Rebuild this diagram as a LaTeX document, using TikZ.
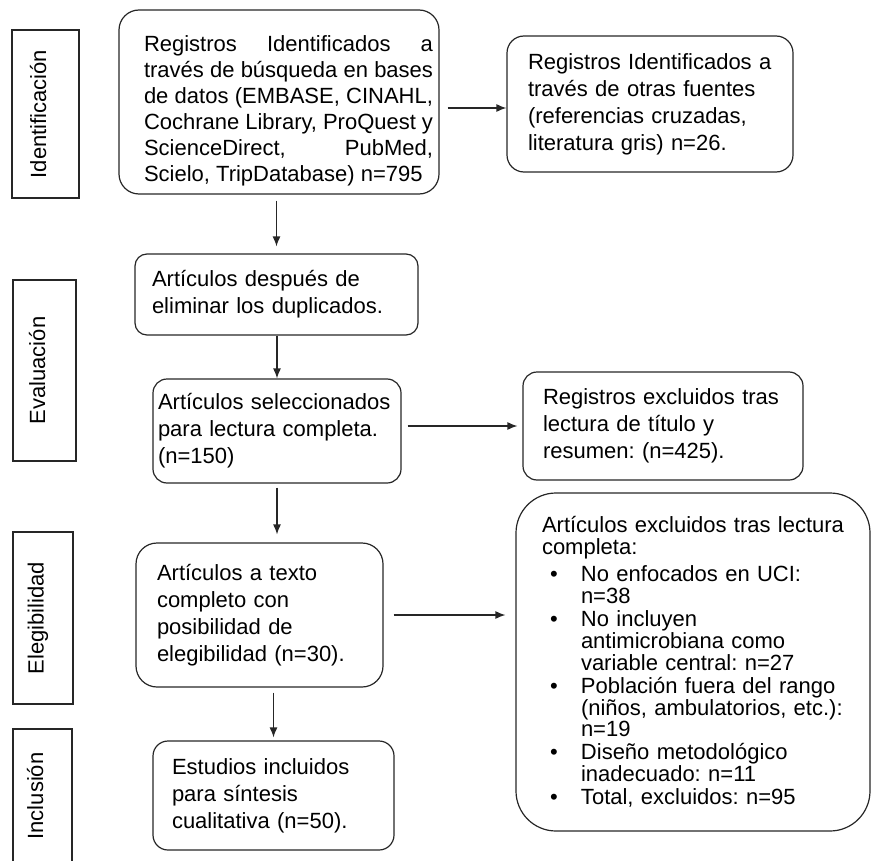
\documentclass[tikz,border=0pt]{standalone}
\usepackage{fontspec}
\setmainfont{Liberation Sans}
\usetikzlibrary{arrows.meta}
\frenchspacing

\newcommand{\vineta}{\makebox[39pt][l]{\hspace{8pt}\textbullet}}
\newcommand{\sangria}{\hspace*{39pt}}

\begin{document}
\begin{tikzpicture}[x=1pt,y=-1pt]

  \clip (0,0) rectangle (872,861);

  % fases
  \begin{scope}[every node/.style={draw=black!85, line width=1.2pt, rotate=90, inner sep=0pt,
      text height=16pt, text depth=15pt, font=\fontsize{22}{27}\selectfont}]
    \node[minimum width=168pt, minimum height=67pt] (f1) at (45.5,114) {Identificación};
    \node[minimum width=181pt, minimum height=63pt] (f2) at (44.5,370.5) {Evaluación};
    \node[minimum width=172pt, minimum height=60pt] (f3) at (43,618) {Elegibilidad};
    \node[minimum width=134pt, minimum height=59pt] (f4) at (42.5,796) {Inclusión};
  \end{scope}

  % cajas
  \begin{scope}[every node/.style={draw=black!85, line width=1.2pt, inner sep=0pt,
      align=left, font=\fontsize{22}{27}\selectfont}]
    \node[rounded corners=20pt, minimum width=320pt, minimum height=184pt,
      font=\fontsize{22}{26}\selectfont] (1) at (279,102)
      {\makebox[308pt][r]{\parbox{289pt}{\vspace*{17pt}%
        \makebox[289pt][s]{Registros Identificados a}\\
        \makebox[289pt][s]{través de búsqueda en bases}\\
        \makebox[289pt][s]{de datos (EMBASE, CINAHL,}\\
        \makebox[289pt][s]{Cochrane Library, ProQuest y}\\
        \makebox[289pt][s]{ScienceDirect, PubMed,}\\
        Scielo, TripDatabase) n=795}}};
    \node[rounded corners=17pt, minimum width=286pt, minimum height=136pt, text width=244pt] (2) at (650,104)
      {Registros Identificados a\\ través de otras fuentes\\ (referencias cruzadas,\\ literatura gris) n=26.};
    \node[rounded corners=12pt, minimum width=283pt, minimum height=81pt, text width=249pt] (3) at (276.5,294.5)
      {Artículos después de\\ eliminar los duplicados.};
    \node[rounded corners=14pt, minimum width=248pt, minimum height=104pt, text width=238pt] (4) at (277,431)
      {Artículos seleccionados\\ para lectura completa.\\ (n=150)};
    \node[rounded corners=14pt, minimum width=280pt, minimum height=108pt, text width=240pt] (5) at (663,426)
      {Registros excluidos tras\\ lectura de título y\\ resumen: (n=425).};
    \node[rounded corners=21pt, minimum width=247pt, minimum height=144pt, text width=205pt] (6) at (259.5,615)
      {Artículos a texto\\ completo con\\ posibilidad de\\ elegibilidad (n=30).};
    \node[rounded corners=15pt, minimum width=241pt, minimum height=109pt, text width=203pt] (7) at (273.5,795.5)
      {Estudios incluidos\\ para síntesis\\ cualitativa (n=50).};
    \node[rounded corners=40pt, minimum width=354pt, minimum height=338pt, text width=302pt,
      font=\fontsize{22}{21.7}\selectfont] (8) at (693,662)
      {\mbox{Artículos excluidos tras lectura}\\ completa:\\[6pt]
       \vineta No enfocados en UCI:\\ \sangria n=38\\[1.5pt]
       \vineta No incluyen\\ \sangria antimicrobiana como\\ \sangria variable central: n=27\\[1.5pt]
       \vineta Población fuera del rango\\ \sangria \mbox{(niños, ambulatorios, etc.):}\\ \sangria n=19\\[1.5pt]
       \vineta Diseño metodológico\\ \sangria inadecuado: n=11\\[1.5pt]
       \vineta Total, excluidos: n=95};
  \end{scope}

  % flechas
  \begin{scope}[every edge/.style={draw=black!85, line width=1.2pt, -{Latex[length=10pt,width=8pt]}}]
    \path ([yshift=-6pt]1.east) edge[shorten <=8pt] ([yshift=-4pt]2.west);
    \path (1.south -| 3.north) edge[shorten <=6pt, shorten >=7pt] (3.north);
    \path (3.south -| 4.north) edge (4.north);
    \path (4.east |- 5.west) edge[shorten <=6pt, shorten >=5pt] (5.west);
    \path (4.south) edge[shorten <=4pt, shorten >=8pt] (4.south |- 6.north);
    \path (6.south -| 7.north) edge[shorten <=5pt, shorten >=3pt] (7.north);
    \path (6.east) edge[shorten <=10pt, shorten >=10pt] (6.east -| 8.west);
  \end{scope}

\end{tikzpicture}
\end{document}
